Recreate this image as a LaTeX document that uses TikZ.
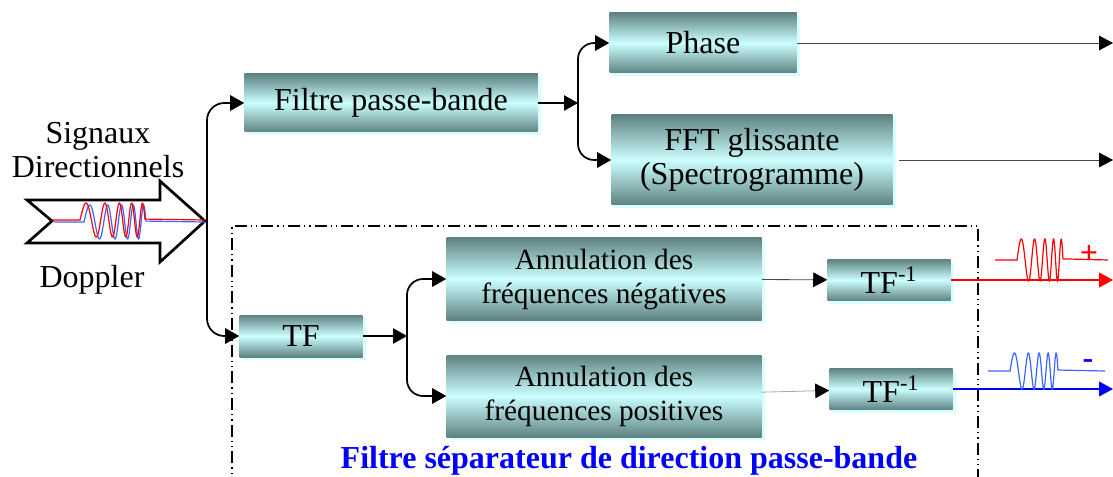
\documentclass[tikz,border=0pt]{standalone}
\usepackage{fontspec}
\setmainfont{Liberation Serif}
\usepackage{tikz}
\usetikzlibrary{arrows.meta, positioning, shadows}
\definecolor{boxdark}{RGB}{95,130,130}
\definecolor{boxlight}{RGB}{204,255,255}
\definecolor{shadowcyan}{RGB}{215,255,255}
\definecolor{linegray}{RGB}{70,70,70}
\definecolor{sigblue}{RGB}{60,100,255}

\tikzset{
  bloc/.style={shape=rectangle, top color=boxdark, bottom color=boxdark, middle color=boxlight,
    drop shadow={shadow xshift=2.5pt, shadow yshift=-2.5pt, fill=shadowcyan, opacity=1},
    font=\fontsize{24}{25.5}\selectfont, align=center, inner sep=0pt},
  annul/.style={font=\fontsize{22}{25.5}\selectfont},
  texte/.style={font=\fontsize{24}{25}\selectfont, align=center},
  fleche/.style={-{Triangle[length=10.5pt,width=11.5pt]}, line width=1.3pt},
  fine/.style={-{Triangle[length=10.5pt,width=11pt,color=black]}, line width=0.6pt, draw=linegray},
  sortie/.style={-{Triangle[length=10.5pt,width=11pt]}, line width=1.6pt},
}

\begin{document}
\begin{tikzpicture}[x=0.75pt, y=-0.75pt]
    \useasboundingbox (0,0) rectangle (1113,477);

    % input arrow with the directional signal
    \draw[line width=2pt, fill=white, line join=miter]
      (27,200) -- (160,200) -- (160,181) -- (205,221) -- (160,262) -- (160,243) -- (27,243) -- (52,221) -- cycle;
    \draw[sigblue, line width=0.9pt] (54,222) -- (84,222) -- plot[domain=0:1, samples=120, smooth]
      ({84+62*\x}, {222-17*sin(360*(2.5*\x+2*\x*\x))}) -- (205,222);
    \draw[red, line width=0.9pt] (52,220) -- (80,220) -- plot[domain=0:1, samples=120, smooth]
      ({80+65*\x}, {220-17*sin(360*(2.5*\x+2*\x*\x))}) -- (205,220);
    \coordinate (tip) at (207,221);
    \node[texte] (signaux) at (98,150) {Signaux\\Directionnels};
    \node[texte] (doppler) at (92,280) {Doppler};

    % blocks
    \node[bloc, minimum width=219.75pt, minimum height=43.5pt] (filtre) at (391,103) {Filtre passe-bande};
    \node[bloc, minimum width=140.25pt, minimum height=45pt] (phase) at (703,43) {Phase};
    \node[bloc, minimum width=210.75pt, minimum height=67.5pt] (fft) at (752,160) {FFT glissante\\(Spectrogramme)};
    \node[bloc, minimum width=92.25pt, minimum height=31.5pt] (tf) at (301,336) {TF};
    \node[bloc, annul, minimum width=236.25pt, minimum height=61.5pt] (negatives) at (604,279) {Annulation des\\fréquences négatives};
    \node[bloc, annul, minimum width=236.25pt, minimum height=61.5pt] (positives) at (604,396) {Annulation des\\fréquences positives};
    \node[bloc, minimum width=92.25pt, minimum height=30.75pt] (tfinvneg) at (889,280) {TF\textsuperscript{-1}};
    \node[bloc, minimum width=92.25pt, minimum height=30.75pt] (tfinvpos) at (891,389) {TF\textsuperscript{-1}};

    % direction separating filter frame
    \draw[line width=1.1pt, dash pattern=on 9pt off 3pt on 1pt off 3pt on 1pt off 3pt]
      (232,490) -- (232,226) -- (978,226) -- (978,490);
    \node[font=\bfseries\fontsize{24}{25}\selectfont, text=blue] (titre) at (629,461) {Filtre séparateur de direction passe-bande};

    % connections
    \coordinate (j1) at (578,103);
    \coordinate (j2) at (407,336);
    \draw[fleche, rounded corners=13pt] (tip) |- (filtre.west);
    \draw[fleche, rounded corners=13pt] (tip) |- (tf.west);
    \path [fleche](filtre) edge (j1);
    \draw[fleche, rounded corners=12pt] (j1) |- (phase.west);
    \draw[fleche, rounded corners=12pt] (j1) |- (fft.west);
    \path [fleche](tf) edge (j2);
    \draw[fleche, rounded corners=12pt] (j2) |- (negatives.west);
    \draw[fleche, rounded corners=12pt] (j2) |- (positives.west);
    \path [fine](negatives) edge (tfinvneg);
    \path [fine, draw=gray!70](positives) edge (tfinvpos);

    % outputs
    \coordinate (outphase) at (1113,43);
    \coordinate (outfft) at (1113,160);
    \coordinate (outneg) at (1113,280);
    \coordinate (outpos) at (1113,389);
    \draw[fine] (phase.east) -- (outphase);
    \draw[fine] ([xshift=5pt]fft.east) -- (outfft);
    \draw[sortie, red] (tfinvneg.east) -- (outneg);
    \draw[sortie, blue] (tfinvpos.east) -- (outpos);

    % separated signals
    \draw[red, line width=0.9pt] (995,260) -- (1017,260) -- plot[domain=0:1, samples=120, smooth]
      ({1017+46*\x}, {260-21*sin(360*(2.5*\x+2*\x*\x))}) -- (1108,260);
    \node[text=red, font=\bfseries\fontsize{24}{25}\selectfont] (plus) at (1089,254) {+};
    \draw[sigblue, line width=0.9pt] (988,371) -- (1010,371) -- plot[domain=0:1, samples=120, smooth]
      ({1010+48*\x}, {371-18*sin(360*(2.5*\x+2*\x*\x))}) -- (1105,371);
    \node[text=blue, font=\bfseries\fontsize{24}{25}\selectfont] (moins) at (1088,364) {-};
\end{tikzpicture}
\end{document}
